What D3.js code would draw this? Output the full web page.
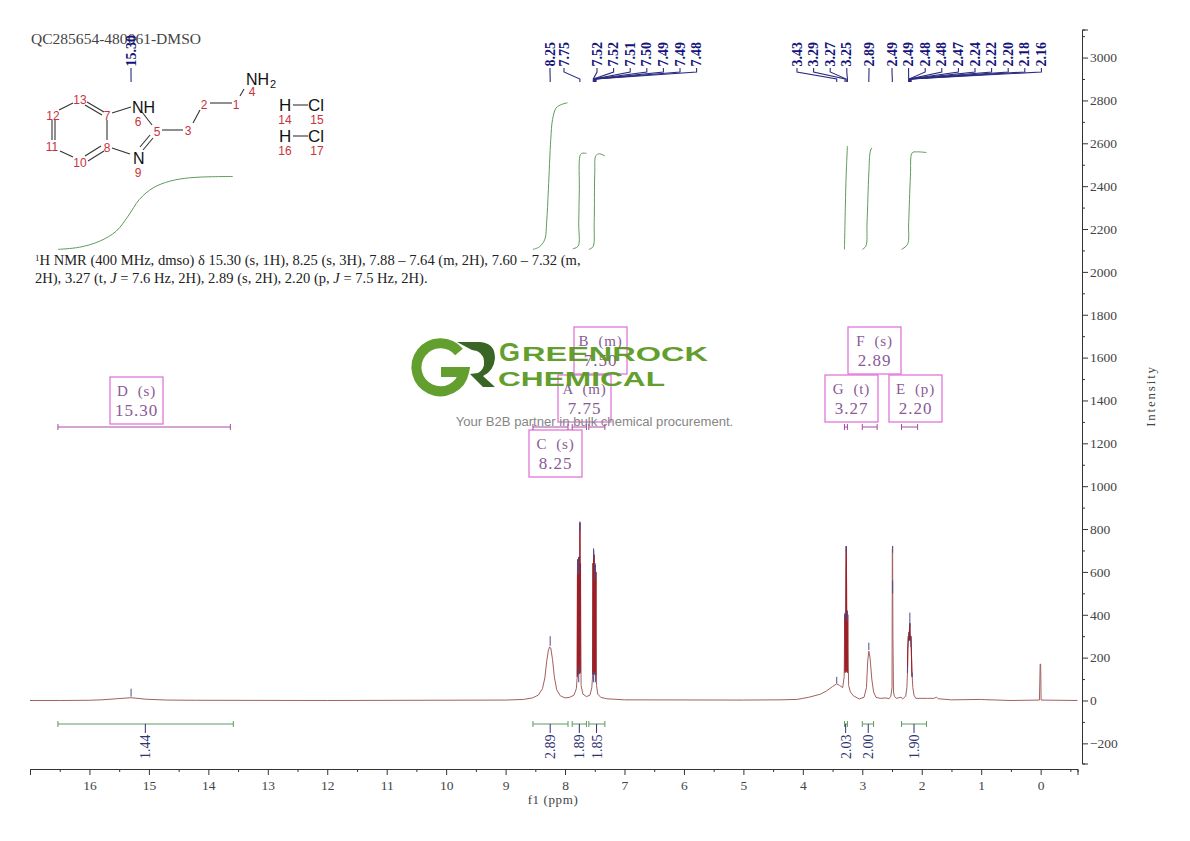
<!DOCTYPE html>
<html>
<head>
<meta charset="utf-8">
<script src="https://cdn.jsdelivr.net/npm/d3@7/dist/d3.min.js"></script>
<style>
  html, body { margin: 0; background: #fff; }
  svg { display: block; }
  text { white-space: pre; }
</style>
</head>
<body>
<div id="chart"></div>
<script>
// spectrum trace
const spectrumPpm = [
  17.0, 16.5, 16.0, 15.8, 15.55, 15.3, 15.05, 14.7, 14.2, 12.0, 9.0, 8.7, 8.55, 8.45, 8.38, 8.34, 8.31, 8.28, 8.26, 8.24, 8.21, 8.18, 8.14, 8.08, 8.0, 7.92, 7.85, 7.81,
  7.795, 7.79, 7.785, 7.78, 7.775, 7.77, 7.765, 7.76, 7.755, 7.75, 7.745, 7.74, 7.73, 7.70, 7.64, 7.58, 7.55, 7.535,
  7.53, 7.525, 7.52, 7.515, 7.51, 7.505, 7.50, 7.495, 7.49, 7.485, 7.48, 7.47, 7.45, 7.40, 7.3, 7.0, 5.0, 4.4, 4.1, 3.9, 3.7, 3.6, 3.5, 3.43, 3.38, 3.33, 3.305,
  3.295, 3.29, 3.285, 3.28, 3.275, 3.27, 3.265, 3.26, 3.255, 3.25, 3.245, 3.23, 3.2, 3.15, 3.05, 2.97, 2.93, 2.91, 2.89, 2.87, 2.84, 2.81, 2.77, 2.7, 2.6, 2.55, 2.52,
  2.50, 2.495, 2.49, 2.485, 2.475, 2.46, 2.43, 2.35, 2.32, 2.27, 2.25,
  2.24, 2.235, 2.225, 2.22, 2.215, 2.21, 2.205, 2.20, 2.195, 2.19, 2.185, 2.18, 2.175, 2.165, 2.16, 2.15, 2.13, 2.1, 1.9, 1.8, 1.75, 1.72, 1.5, 1.0, 0.95, 0.5,
  0.02, 0.008, 0.0, -0.008, -0.62
];
const spectrumIntensity = [
  0, 0, 1, 3, 8, 13, 6, 2, 1, 0, 2, 5, 12, 25, 55, 105, 180, 235, 250, 245, 190, 110, 50, 22, 12, 15, 25, 55,
  110, 655, 120, 660, 125, 670, 130, 650, 125, 830, 130, 640, 70, 30, 18, 25, 60, 120,
  640, 120, 700, 125, 680, 125, 640, 120, 630, 115, 600, 70, 30, 15, 8, 3, 2, 3, 5, 15, 30, 45, 65, 78, 70, 60, 110,
  400, 130, 405, 135, 560, 720, 540, 135, 410, 130, 400, 70, 40, 22, 7, 15, 60, 180, 230, 200, 100, 40, 15, 10, 12, 8, 20,
  60, 700, 720, 300, 40, 20, 10, 15, 8, 20, 60,
  130, 240, 300, 280, 310, 280, 340, 360, 290, 280, 300, 270, 240, 115, 110, 60, 25, 10, 10, 10, 15, 8, 3, 5, 4, 0,
  2, 170, 170, 2, 0
];
// stretches of the trace that print as solid red
const denseFrom = [7.80, 7.535, 3.30, 2.245];
const denseTo = [7.735, 7.475, 3.24, 2.155];

// peak tick marks sitting on the trace
const markerPpm = [15.3, 8.25, 7.75, 7.77, 7.785, 7.77, 7.52, 7.50, 7.49, 7.52, 7.49, 3.43, 3.29, 3.27, 3.25, 2.89, 2.49, 2.49, 2.24, 2.22, 2.20, 2.18, 2.16];
const markerLow = [18, 255, 790, 590, 590, 85, 660, 560, 600, 85, 85, 80, 380, 690, 370, 235, 690, 500, 130, 300, 340, 250, 110];
const markerHigh = [55, 300, 835, 670, 660, 160, 710, 640, 630, 135, 135, 110, 410, 720, 420, 270, 720, 560, 160, 320, 410, 300, 130];

// peak labels along the top
const topGroups = [
  { labels: ["15.30"], ppm: [15.3] },
  { labels: ["8.25"], ppm: [8.25] },
  { labels: ["7.75"], ppm: [7.75] },
  { labels: ["7.52", "7.52", "7.51", "7.50", "7.49", "7.49", "7.48"], ppm: [7.525, 7.52, 7.51, 7.50, 7.49, 7.485, 7.48] },
  { labels: ["3.43", "3.29", "3.27", "3.25"], ppm: [3.43, 3.29, 3.27, 3.25] },
  { labels: ["2.89"], ppm: [2.89] },
  { labels: ["2.49", "2.49", "2.48", "2.48", "2.47", "2.24", "2.22", "2.20", "2.18", "2.16"], ppm: [2.495, 2.22, 2.215, 2.21, 2.205, 2.20, 2.195, 2.19, 2.185, 2.18] }
];

// integrals
const integralValues = ["1.44", "2.89", "1.89", "1.85", "2.03", "2.00", "1.90"];
const integralFrom = [16.53, 8.54, 7.88, 7.60, 3.30, 3.00, 2.34];
const integralTo = [13.58, 7.95, 7.64, 7.33, 3.25, 2.81, 1.92];
const integralLabelPpm = [15.06, 8.25, 7.76, 7.47, 3.28, 2.90, 2.13];

const curvePpm = [
  [16.53, 16.17, 15.83, 15.55, 15.35, 15.16, 14.93, 14.65, 14.32, 13.93, 13.59],
  [8.54, 8.43, 8.34, 8.31, 8.28, 8.24, 8.21, 8.15, 8.06, 7.96],
  [7.87, 7.78, 7.77, 7.76, 7.75, 7.72, 7.64],
  [7.60, 7.53, 7.51, 7.50, 7.48, 7.42, 7.33],
  [3.30, 3.285, 3.27, 3.25],
  [3.00, 2.94, 2.92, 2.89, 2.865, 2.84],
  [2.34, 2.24, 2.22, 2.19, 2.16, 2.09, 1.92]
];
const curveValue = [
  [2105, 2115, 2143, 2190, 2260, 2338, 2392, 2423, 2439, 2444, 2445],
  [2105, 2117, 2152, 2229, 2385, 2618, 2711, 2765, 2781, 2789],
  [2108, 2120, 2229, 2385, 2540, 2553, 2553],
  [2105, 2117, 2229, 2462, 2543, 2551, 2541],
  [2105, 2307, 2462, 2587],
  [2105, 2120, 2229, 2462, 2563, 2579],
  [2105, 2128, 2229, 2447, 2556, 2560, 2557]
];

// multiplets
const multipletName = ["D", "C", "A", "B", "G", "F", "E"];
const multipletType = ["s", "s", "m", "m", "t", "s", "p"];
const multipletShift = ["15.30", "8.25", "7.75", "7.50", "3.27", "2.89", "2.20"];
const multipletFrom = [16.53, 8.54, 7.88, 7.60, 3.30, 3.00, 2.34];
const multipletTo = [13.63, 7.95, 7.64, 7.33, 3.25, 2.75, 2.07];

const ppmMajor = [16, 15, 14, 13, 12, 11, 10, 9, 8, 7, 6, 5, 4, 3, 2, 1, 0];
const ppmMinor = [16.5, 15.5, 14.5, 13.5, 12.5, 11.5, 10.5, 9.5, 8.5, 7.5, 6.5, 5.5, 4.5, 3.5, 2.5, 1.5, 0.5, -0.5];
const intensityMajor = [3000, 2800, 2600, 2400, 2200, 2000, 1800, 1600, 1400, 1200, 1000, 800, 600, 400, 200, 0, -200];
const intensityMinor = [3100, 2900, 2700, 2500, 2300, 2100, 1900, 1700, 1500, 1300, 1100, 900, 700, 500, 300, 100, -100];

const width = 1190, height = 841;
const serif = '"Liberation Serif", serif';
const sans = '"Liberation Sans", Arial, sans-serif';

const svg = d3.select("#chart").append("svg")
  .attr("width", width)
  .attr("height", height)
  .attr("viewBox", [0, 0, width, height]);

const x = d3.scaleLinear().domain([17, -0.62]).range([30, 1077.5]);
const y = d3.scaleLinear().domain([3131, -294]).range([29.5, 763.5]);

// axes
function styleAxis(g) {
  g.selectAll("path, line").attr("stroke", "#333");
  g.selectAll("text").attr("fill", "#444").attr("font-family", serif).attr("font-size", 13.5);
}
svg.append("g").attr("transform", "translate(0,769)")
  .call(d3.axisBottom(x).tickValues(ppmMinor).tickSizeOuter(0).tickSize(3).tickFormat(""))
  .call(styleAxis);
svg.append("g").attr("transform", "translate(0,769)")
  .call(d3.axisBottom(x).tickValues(ppmMajor).tickSizeOuter(0).tickSize(6).tickPadding(5).tickFormat(d3.format("d")))
  .call(styleAxis);
svg.append("g").attr("transform", "translate(1082,0)")
  .call(d3.axisRight(y).tickValues(intensityMinor).tickSizeOuter(0).tickSize(3).tickFormat(""))
  .call(styleAxis);
svg.append("g").attr("transform", "translate(1082,0)")
  .call(d3.axisRight(y).tickValues(intensityMajor).tickSizeOuter(0).tickSize(6).tickPadding(2).tickFormat(d3.format("d")))
  .call(styleAxis);

svg.append("text").attr("x", 553).attr("y", 804).attr("text-anchor", "middle")
  .attr("font-family", serif).attr("font-size", 13).attr("letter-spacing", 0.6).attr("fill", "#444").text("f1 (ppm)");
svg.append("text").attr("transform", "translate(1155,396) rotate(-90)").attr("text-anchor", "middle")
  .attr("font-family", serif).attr("font-size", 13).attr("letter-spacing", 1.8).attr("fill", "#444").text("Intensity");

svg.append("text").attr("x", 31).attr("y", 44).attr("textLength", 170).attr("lengthAdjust", "spacingAndGlyphs")
  .attr("font-family", serif).attr("font-size", 15).attr("fill", "#444").text("QC285654-480061-DMSO");

// spectrum: pale thin trace, with the multiplets overdrawn in solid red
const trace = d3.line().x(d => x(d[0])).y(d => y(d[1]));
const spectrum = d3.zip(spectrumPpm, spectrumIntensity);
svg.append("path")
  .attr("d", trace(spectrum))
  .attr("fill", "none").attr("stroke", "#a4605f").attr("stroke-width", 1).attr("stroke-linejoin", "round");
svg.append("g").selectAll("path")
  .data(denseFrom)
  .join("path")
  .attr("d", (d, i) => trace(spectrum.filter(p => p[0] <= d && p[0] >= denseTo[i])))
  .attr("fill", "none").attr("stroke", "#9c1f28").attr("stroke-width", 1.1);

svg.append("g").selectAll("line")
  .data(markerPpm)
  .join("line")
  .attr("x1", d => x(d)).attr("x2", d => x(d))
  .attr("y1", (d, i) => y(markerLow[i])).attr("y2", (d, i) => y(markerHigh[i]))
  .attr("stroke", "#4a4f8c").attr("stroke-width", 1);

// integral curves in the upper half
const curve = d3.line().x(d => x(d[0])).y(d => y(d[1])).curve(d3.curveCatmullRom);
svg.append("g").selectAll("path")
  .data(curvePpm.map((p, i) => d3.zip(p, curveValue[i])))
  .join("path")
  .attr("d", curve)
  .attr("fill", "none").attr("stroke", "#5f9a5f").attr("stroke-width", 1);

// integral bars under the baseline
const barY = 724;
const bars = svg.append("g").selectAll("g").data(integralValues).join("g");
bars.append("line")
  .attr("x1", (d, i) => x(integralFrom[i])).attr("x2", (d, i) => x(integralTo[i]))
  .attr("y1", barY).attr("y2", barY).attr("stroke", "#5f9a5f");
[integralFrom, integralTo].forEach(ends => {
  bars.append("line")
    .attr("x1", (d, i) => x(ends[i])).attr("x2", (d, i) => x(ends[i]))
    .attr("y1", barY - 3).attr("y2", barY + 3).attr("stroke", "#5f9a5f");
});
bars.append("line")
  .attr("x1", (d, i) => x(integralLabelPpm[i])).attr("x2", (d, i) => x(integralLabelPpm[i]))
  .attr("y1", barY).attr("y2", barY + 9).attr("stroke", "#2f3170");
bars.append("text")
  .attr("transform", (d, i) => `translate(${x(integralLabelPpm[i]) + 5},759) rotate(-90)`)
  .attr("font-family", serif).attr("font-size", 14).attr("fill", "#2f3170")
  .text(d => d);

// peak labels with their connectors
const labelStep = 16.6;
const groupStart = [131, 550, 564, 597, 797, 869, 892];
topGroups.forEach((group, gi) => {
  group.labels.forEach((label, i) => {
    const lx = groupStart[gi] + i * labelStep;
    svg.append("text")
      .attr("transform", `translate(${lx + 4.5},66.5) rotate(-90)`)
      .attr("font-family", serif).attr("font-size", 14).attr("font-weight", "bold").attr("fill", "#13137a")
      .text(label);
    svg.append("path")
      .attr("d", d3.line()([[lx, 68], [lx, 72], [x(group.ppm[i]), 79], [x(group.ppm[i]), 82]]))
      .attr("fill", "none").attr("stroke", "#2b2b80").attr("stroke-width", 1.1);
  });
});

// multiplet boxes, placed so that they do not overlap
const boxLeft = [110, 529, 558, 574, 825, 848, 889];
const boxTop = [377, 430, 375, 327, 375, 327, 375];
const boxW = 53, boxH = 47;
const boxes = svg.append("g").selectAll("g").data(multipletName).join("g");
boxes.append("rect")
  .attr("x", (d, i) => boxLeft[i]).attr("y", (d, i) => boxTop[i])
  .attr("width", boxW).attr("height", boxH)
  .attr("fill", "none").attr("stroke", "#e276d8").attr("stroke-width", 1.3);
boxes.append("text")
  .attr("x", (d, i) => boxLeft[i] + boxW / 2).attr("y", (d, i) => boxTop[i] + 19)
  .attr("text-anchor", "middle").attr("font-family", serif).attr("font-size", 15).attr("letter-spacing", 0.8).attr("fill", "#8a5a96")
  .text((d, i) => `${d}  (${multipletType[i]})`);
boxes.append("text")
  .attr("x", (d, i) => boxLeft[i] + boxW / 2).attr("y", (d, i) => boxTop[i] + 39)
  .attr("text-anchor", "middle").attr("font-family", serif).attr("font-size", 17).attr("letter-spacing", 1).attr("fill", "#8a5a96")
  .text((d, i) => multipletShift[i]);

const rangeY = 427;
const ranges = svg.append("g").selectAll("g").data(multipletName).join("g").attr("stroke", "#a64aa6");
ranges.append("line")
  .attr("x1", (d, i) => x(multipletFrom[i])).attr("x2", (d, i) => x(multipletTo[i]))
  .attr("y1", rangeY).attr("y2", rangeY);
[multipletFrom, multipletTo].forEach(ends => {
  ranges.append("line")
    .attr("x1", (d, i) => x(ends[i])).attr("x2", (d, i) => x(ends[i]))
    .attr("y1", rangeY - 3).attr("y2", rangeY + 3);
});

// assignment text
const note = svg.append("g").attr("font-family", serif).attr("font-size", 14.55).attr("fill", "#222");
const line1 = note.append("text").attr("x", 35).attr("y", 265);
line1.append("tspan").attr("font-size", 9).attr("dy", -4).text("1");
line1.append("tspan").attr("dy", 4).text("H NMR (400 MHz, dmso) δ 15.30 (s, 1H), 8.25 (s, 3H), 7.88 – 7.64 (m, 2H), 7.60 – 7.32 (m,");
const line2 = note.append("text").attr("x", 35).attr("y", 283);
line2.append("tspan").text("2H), 3.27 (t, ");
line2.append("tspan").attr("font-style", "italic").text("J");
line2.append("tspan").text(" = 7.6 Hz, 2H), 2.89 (s, 2H), 2.20 (p, ");
line2.append("tspan").attr("font-style", "italic").text("J");
line2.append("tspan").text(" = 7.5 Hz, 2H).");

// structure drawing
function drawMolecule(g) {
  const bonds = [
    [85, 105, 102, 115], [59, 110, 73, 103], [52, 120, 52, 140], [55, 120, 55, 140],
    [60, 151, 73, 157], [85, 156, 101, 146], [88, 161, 104, 151], [107, 140, 107, 120],
    [87, 102, 104, 112], [112, 113, 131, 107], [112, 148, 130, 154], [142, 112, 152, 125],
    [150, 135, 140, 147], [153, 138, 143, 150], [162, 130, 183, 130], [193, 123, 200, 110],
    [210, 103, 232, 103], [240, 96, 244, 89], [293, 105, 308, 105], [293, 136, 308, 136]
  ];
  g.selectAll("line").data(bonds).join("line")
    .attr("x1", d => d[0]).attr("y1", d => d[1]).attr("x2", d => d[2]).attr("y2", d => d[3])
    .attr("stroke", "#333").attr("stroke-width", 1.1);
  const black = [["NH", 132, 113, 16], ["N", 133, 164, 16], ["NH", 246, 85, 16], ["H", 279, 111, 17], ["Cl", 308, 111, 17], ["H", 279, 142, 17], ["Cl", 308, 142, 17]];
  g.selectAll("text.atom").data(black).join("text").attr("class", "atom")
    .attr("x", d => d[1]).attr("y", d => d[2]).attr("font-size", d => d[3])
    .attr("font-family", sans).attr("fill", "#111").text(d => d[0]);
  g.append("text").attr("x", 270).attr("y", 88).attr("font-size", 11).attr("font-family", sans).attr("fill", "#111").text("2");
  const red = [["13", 80, 104], ["12", 53, 120], ["11", 52, 151], ["10", 80, 167], ["7", 107, 120], ["8", 107, 152], ["6", 138, 126], ["9", 138, 177], ["5", 157, 136], ["3", 188, 135], ["2", 204, 109], ["1", 236, 109], ["4", 252, 96], ["14", 285, 124], ["15", 317, 124], ["16", 285, 155], ["17", 317, 155]];
  g.selectAll("text.num").data(red).join("text").attr("class", "num")
    .attr("x", d => d[1]).attr("y", d => d[2]).attr("text-anchor", "middle")
    .attr("font-size", 12).attr("font-family", sans).attr("fill", "#c8323a").text(d => d[0]);
}
drawMolecule(svg.append("g"));

// watermark logo goes on top of the boxes
function drawLogo(g) {
  g.append("path")
    .attr("d", "M459 352 A24 24 0 1 0 464 372 L441 372")
    .attr("fill", "none").attr("stroke", "#5a9a23").attr("stroke-width", 10);
  g.append("path")
    .attr("d", "M457 342 L480 342 Q495 343 495 358 Q494 371 483 376 L495 387 L483 387 L470 374 L478 373 Q485 369 484 361 Q483 351 472 350 Z")
    .attr("fill", "#2f5e1a");
  const word = (s, px, py, fs, len) => g.append("text")
    .attr("x", px).attr("y", py).attr("font-family", sans).attr("font-size", fs)
    .attr("font-weight", "bold").attr("fill", "#5a9a23")
    .attr("textLength", len).attr("lengthAdjust", "spacingAndGlyphs").text(s);
  word("G", 499, 361, 26, 21);
  word("REENROCK", 522, 361, 21, 186);
  word("CHEMICAL", 498, 386, 21, 167);
  g.append("text").attr("x", 594.5).attr("y", 425.5).attr("text-anchor", "middle")
    .attr("font-family", sans).attr("font-size", 13.1).attr("fill", "#808080")
    .text("Your B2B partner in bulk chemical procurement.");
}
drawLogo(svg.append("g").attr("opacity", 0.95));
</script>
</body>
</html>
